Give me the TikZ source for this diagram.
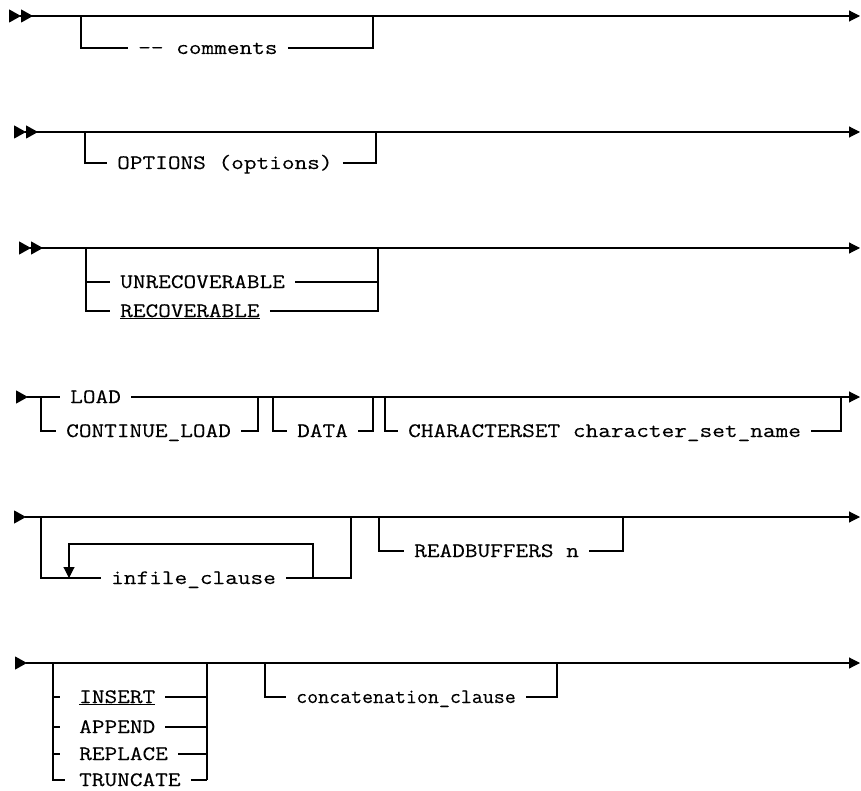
\documentclass[tikz,border=0pt]{standalone}
\usepackage{fontspec}
\newfontfamily\railfont{Latin Modern Mono}[FakeStretch=1.2, FakeBold=0.25]
\newfontfamily\railnarrow{Latin Modern Mono}[FakeStretch=1.04, FakeBold=0.25]
\usetikzlibrary{arrows.meta}

\begin{document}
\begin{tikzpicture}[
  x=1pt, y=-1pt,
  rail/.style={line width=1.1pt},
  kw/.style={font=\railfont\fontsize{20.5}{24}\selectfont, anchor=west,
             inner xsep=10pt, inner ysep=1pt, text height=12pt, text depth=0pt},
  enter/.style={rail, {Triangle[reversed, length=12pt, width=13pt]}-},
  entertwin/.style={rail, {Triangle[reversed, length=12pt, width=13pt]
                          Triangle[reversed, length=12pt, width=13pt]}-},
  leave/.style={rail, -{Triangle[length=11pt, width=11pt]}}
]
\useasboundingbox (0,0) rectangle (861,791);

% ---------- comments ----------
\coordinate (s1) at (9,16);
\coordinate (a1) at (81,16);
\coordinate (b1) at (373,16);
\coordinate (e1) at (860,16);
\node[kw] (cmt) at (128,48) {-{}- comments};
\draw[entertwin] (s1) -- (a1);
\draw[leave] (a1) -- (e1);
\draw[rail] (a1) |- (cmt.west);
\draw[rail] (cmt.east) -| (b1);

% ---------- options ----------
\coordinate (s2) at (14,132);
\coordinate (a2) at (85,132);
\coordinate (b2) at (376,132);
\coordinate (e2) at (860,132);
\node[kw] (opt) at (107,163) {OPTIONS (options)};
\draw[entertwin] (s2) -- (a2);
\draw[leave] (a2) -- (e2);
\draw[rail] (a2) |- (opt.west);
\draw[rail] (opt.east) -| (b2);

% ---------- recoverability ----------
\coordinate (s3) at (19,248);
\coordinate (a3) at (86,248);
\coordinate (b3) at (378,248);
\coordinate (e3) at (860,248);
\node[kw] (unrec) at (110,282) {UNRECOVERABLE};
\node[kw] (rec) at (110,311) {\underline{RECOVERABLE}};
\draw[entertwin] (s3) -- (a3);
\draw[leave] (a3) -- (e3);
\draw[rail] (a3) |- (rec.west);
\draw[rail] (a3 |- unrec.west) -- (unrec.west);
\draw[rail] (rec.east) -| (b3);
\draw[rail] (unrec.east) -- (b3 |- unrec.east);

% ---------- load / data / characterset ----------
\coordinate (s4) at (16,397);
\coordinate (a4) at (41,397);
\coordinate (b4) at (258,397);
\coordinate (c4) at (273,397);
\coordinate (d4) at (373,397);
\coordinate (f4) at (385,397);
\coordinate (g4) at (841,397);
\coordinate (e4) at (860,397);
\node[kw] (load) at (60,397) {LOAD};
\node[kw] (cont) at (56,431) {CONTINUE\_LOAD};
\node[kw] (data) at (287,431) {DATA};
\node[kw] (cset) at (398,431) {CHARACTERSET character\_set\_name};
\draw[enter] (s4) -- (load.west);
\draw[leave] (load.east) -- (e4);
\draw[rail] (a4) |- (cont.west);
\draw[rail] (cont.east) -| (b4);
\draw[rail] (c4) |- (data.west);
\draw[rail] (data.east) -| (d4);
\draw[rail] (f4) |- (cset.west);
\draw[rail] (cset.east) -| (g4);

% ---------- infile / readbuffers ----------
\coordinate (s5) at (14,517);
\coordinate (a5) at (41,517);
\coordinate (b5) at (351,517);
\coordinate (c5) at (379,517);
\coordinate (d5) at (623,517);
\coordinate (e5) at (860,517);
\coordinate (l5r) at (313,578);
\coordinate (l5l) at (69,578);
\node[kw] (inf) at (101,578) {infile\_clause};
\node[kw] (rbuf) at (404,551) {READBUFFERS n};
\draw[enter] (s5) -- (a5);
\draw[leave] (a5) -- (e5);
\draw[rail] (a5) |- (inf.west);
\draw[rail] (inf.east) -| (b5);
\draw[leave] (l5r) -- ++(0,-34) -| (l5l);
\draw[rail] (c5) |- (rbuf.west);
\draw[rail] (rbuf.east) -| (d5);

% ---------- insert mode / concatenation ----------
\coordinate (s6) at (15,663);
\coordinate (a6) at (53,663);
\coordinate (b6) at (207,663);
\coordinate (c6) at (265,663);
\coordinate (d6) at (557,663);
\coordinate (e6) at (860,663);
\node[kw] (ins) at (69,697) {\underline{INSERT}};
\node[kw] (app) at (69,727) {APPEND};
\node[kw] (repl) at (69,754) {REPLACE};
\node[kw] (trunc) at (69,780) {TRUNCATE};
\node[kw, font=\railnarrow\fontsize{20.5}{24}\selectfont] (cat) at (286,697)
  {concatenation\_clause};
\draw[enter] (s6) -- (a6);
\draw[leave] (a6) -- (e6);
\draw[rail] (a6) -- (a6 |- trunc) -- ++(12,0);
\foreach \n in {ins,app,repl}
  \draw[rail] (a6 |- \n) -- ++(7,0);
\draw[rail] (b6) -- (b6 |- trunc);
\foreach \n in {ins,app,repl,trunc}
  \draw[rail] (\n.east) -- (b6 |- \n.east);
\draw[rail] (c6) |- (cat.west);
\draw[rail] (cat.east) -| (d6);

\end{tikzpicture}
\end{document}
